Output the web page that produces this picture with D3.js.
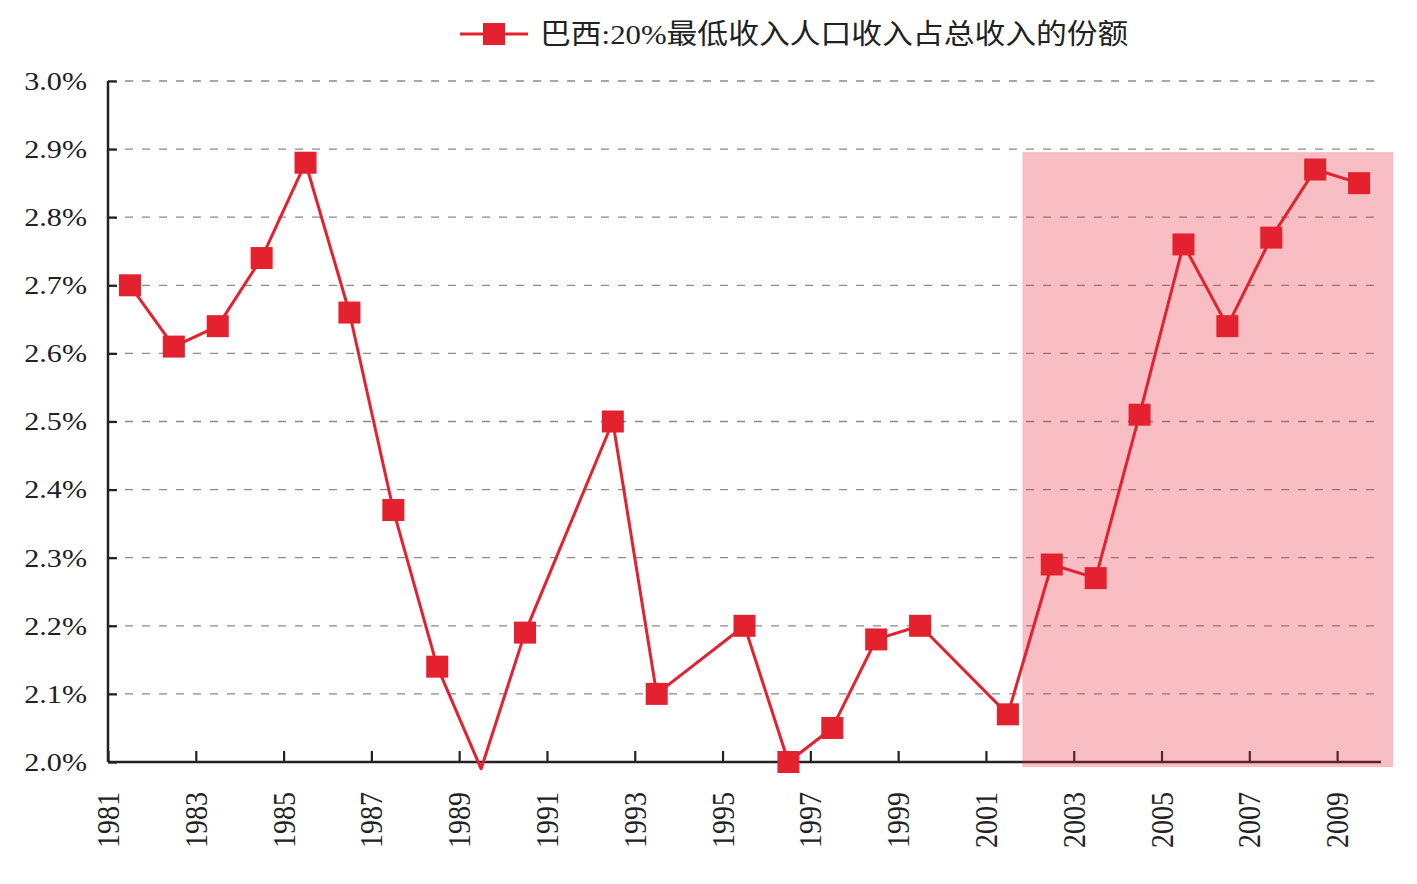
<!DOCTYPE html>
<html>
<head>
<meta charset="utf-8">
<script src="https://cdn.jsdelivr.net/npm/d3@7"></script>
<style>
  html, body { margin: 0; padding: 0; background: #fff; }
  svg { display: block; }
</style>
</head>
<body>
<div id="chart"></div>
<script>
// NOTE: data
const seriesName = '巴西:20%最低收入人口收入占总收入的份额';
const years = [1981, 1982, 1983, 1984, 1985, 1986, 1987, 1988, 1989, 1990,
  1992, 1993, 1995, 1996, 1997, 1998, 1999, 2001, 2002, 2003,
  2004, 2005, 2006, 2007, 2008, 2009];
const shares = [2.70, 2.61, 2.64, 2.74, 2.88, 2.66, 2.37, 2.14, 1.99, 2.19,
  2.50, 2.10, 2.20, 2.00, 2.05, 2.18, 2.20, 2.07, 2.29, 2.27,
  2.51, 2.76, 2.64, 2.77, 2.87, 2.85];
const xTickYears = d3.range(1981, 2010, 2);
const yTicks = [2.0, 2.1, 2.2, 2.3, 2.4, 2.5, 2.6, 2.7, 2.8, 2.9, 3.0];
// shaded period (years / percent)
const highlightYears = [2001.84, 2010.27];
const highlightShares = [1.993, 2.895];

// NOTE: settings
const W = 1417, H = 884;
const margin = { top: 81, right: 36, bottom: 122, left: 108 };
const red = '#e3212f';
const font = '"Liberation Serif", "Times New Roman", "Noto Sans CJK SC", serif';
const stretch = 1.16; // glyphs in the reference look widened

const width = W - margin.left - margin.right;
const height = H - margin.top - margin.bottom;

const x = d3.scaleLinear().domain([1981, 2010]).range([0, width]);
const y = d3.scaleLinear().domain([2.0, 3.0]).range([height, 0]);

const svg = d3.select('#chart').append('svg')
  .attr('width', W).attr('height', H)
  .style('font-family', font);

const g = svg.append('g').attr('transform', `translate(${margin.left},${margin.top})`);

// grid
g.append('g').selectAll('line')
  .data(yTicks.filter(d => d > 2.0))
  .join('line')
  .attr('x1', 0).attr('x2', width)
  .attr('y1', d => y(d)).attr('y2', d => y(d))
  .attr('stroke', '#8a8a8a').attr('stroke-width', 1.3)
  .attr('stroke-dasharray', '8,9');

// y axis
const yAxis = g.append('g')
  .call(d3.axisRight(y).tickValues(yTicks).tickSize(9).tickFormat(''));
yAxis.select('.domain').attr('stroke', '#222').attr('stroke-width', 2.5).attr('d', `M0,0V${height}`);
yAxis.selectAll('.tick line').attr('stroke', '#222').attr('stroke-width', 2.2);
g.append('g').selectAll('text')
  .data(yTicks)
  .join('text')
  .attr('transform', d => `translate(-21,${y(d)}) scale(${stretch},1)`)
  .attr('text-anchor', 'end')
  .attr('dy', '0.34em')
  .attr('font-size', 26)
  .attr('fill', '#222')
  .text(d => d.toFixed(1) + '%');

// x axis
const xAxis = g.append('g')
  .attr('transform', `translate(0,${height})`)
  .call(d3.axisTop(x).tickValues(xTickYears).tickSize(11).tickFormat(''));
xAxis.select('.domain').attr('stroke', '#222').attr('stroke-width', 2.5).attr('d', `M0,0H${width}`);
xAxis.selectAll('.tick line').attr('stroke', '#222').attr('stroke-width', 2.2);
g.append('g').selectAll('text')
  .data(xTickYears)
  .join('text')
  .attr('transform', d => `translate(${x(d)},${height + 30}) scale(${stretch},1) rotate(-90)`)
  .attr('text-anchor', 'end')
  .attr('dy', '0.34em')
  .attr('font-size', 28)
  .attr('fill', '#222')
  .text(d => d);

// shaded period
g.append('rect')
  .attr('x', x(highlightYears[0]))
  .attr('width', x(highlightYears[1]) - x(highlightYears[0]))
  .attr('y', y(highlightShares[1]))
  .attr('height', y(highlightShares[0]) - y(highlightShares[1]))
  .attr('fill', 'rgb(232,40,60)')
  .attr('fill-opacity', 0.3)
  .attr('stroke', 'rgb(232,40,60)')
  .attr('stroke-opacity', 0.12);

// series
const points = years.map((yr, i) => ({ year: yr, value: shares[i] }));
const line = d3.line().x(d => x(d.year + 0.5)).y(d => y(d.value));
g.append('path')
  .datum(points)
  .attr('d', line)
  .attr('fill', 'none')
  .attr('stroke', red)
  .attr('stroke-width', 3)
  .attr('stroke-linejoin', 'round');

const m = 22;
g.append('g').selectAll('rect')
  .data(points.filter(d => d.value >= 2.0))
  .join('rect')
  .attr('x', d => x(d.year + 0.5) - m / 2)
  .attr('y', d => y(d.value) - m / 2)
  .attr('width', m).attr('height', m)
  .attr('fill', red);

// legend
const legend = svg.append('g').attr('transform', 'translate(460,34)');
legend.append('line').attr('x1', 0).attr('x2', 68).attr('stroke', red).attr('stroke-width', 3);
legend.append('rect').attr('x', 34 - m / 2).attr('y', -m / 2).attr('width', m).attr('height', m).attr('fill', red);
legend.append('text')
  .attr('transform', `translate(80,0) scale(1.1,1)`)
  .attr('dy', '0.36em')
  .attr('font-size', 28)
  .attr('fill', '#222')
  .text(seriesName);
</script>
</body>
</html>
